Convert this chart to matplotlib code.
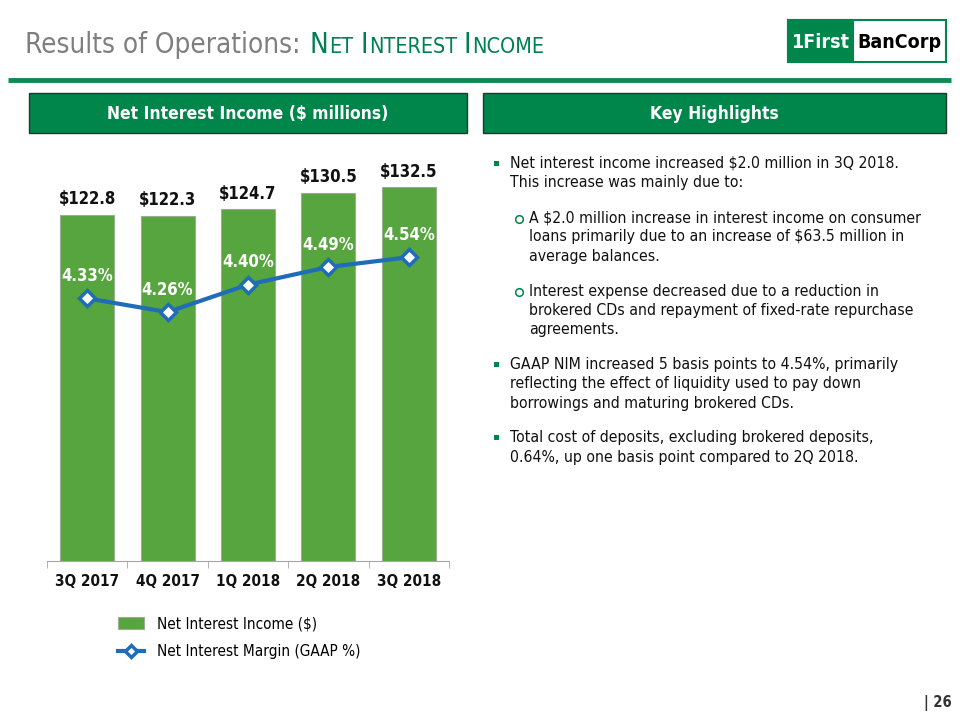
import numpy as np
import matplotlib
matplotlib.use('Agg')
import matplotlib.pyplot as plt
from matplotlib.patches import Rectangle

# data
quarters = ["3Q 2017", "4Q 2017", "1Q 2018", "2Q 2018", "3Q 2018"]
nii = [122.8, 122.3, 124.7, 130.5, 132.5]        # net interest income, $ millions
nim = [4.33, 4.26, 4.40, 4.49, 4.54]             # net interest margin, GAAP %

highlights = [
    ("bullet", ["Net interest income increased $2.0 million in 3Q 2018.",
                "This increase was mainly due to:"]),
    ("sub", ["A $2.0 million increase in interest income on consumer",
             "loans primarily due to an increase of $63.5 million in",
             "average balances."]),
    ("sub", ["Interest expense decreased due to a reduction in",
             "brokered CDs and repayment of fixed-rate repurchase",
             "agreements."]),
    ("bullet", ["GAAP NIM increased 5 basis points to 4.54%, primarily",
                "reflecting the effect of liquidity used to pay down",
                "borrowings and maturing brokered CDs."]),
    ("bullet", ["Total cost of deposits, excluding brokered deposits,",
                "0.64%, up one basis point compared to 2Q 2018."]),
]

GREEN = "#00854A"
BAR = "#57A53E"
BLUE = "#1F6CB8"
GRAY = "#7F7F7F"

plt.rcParams['font.family'] = ["DejaVu Sans"]
plt.rcParams['font.stretch'] = 'condensed'

fig = plt.figure(figsize=(9.6, 7.2), dpi=100)
fig.patch.set_facecolor("white")

# overlay in pixel coords for the slide furniture
bg = fig.add_axes([0, 0, 1, 1])
bg.set_xlim(0, 960)
bg.set_ylim(720, 0)
bg.axis('off')
renderer = fig.canvas.get_renderer()

# title, small caps done by hand
x = 25
t = bg.text(x, 53, "Results of Operations:", fontsize=20, color=GRAY, va='baseline')
x += t.get_window_extent(renderer).width + 9
for word in ["NET", "INTEREST", "INCOME"]:
    t = bg.text(x, 53, word[0], fontsize=20, color="#00804F", va='baseline')
    x += t.get_window_extent(renderer).width + 1
    t = bg.text(x, 53, word[1:], fontsize=15.5, color="#00804F", va='baseline')
    x += t.get_window_extent(renderer).width + 7

# logo
bg.add_patch(Rectangle((788, 20), 158, 42, facecolor="white", edgecolor=GREEN, lw=1.5))
bg.add_patch(Rectangle((788, 20), 65, 42, facecolor=GREEN, edgecolor=GREEN, lw=1.5))
bg.text(820, 42, "1First", color="white", fontsize=14, fontweight='bold',
        ha='center', va='center')
bg.text(899, 42, "BanCorp", color="black", fontsize=14, fontweight='bold',
        ha='center', va='center')

# green rule
bg.plot([8, 951], [80, 80], color="#0E8A52", lw=3.5, solid_capstyle='butt')

# header boxes
bg.add_patch(Rectangle((29, 93), 438, 40, facecolor=GREEN, edgecolor="#1D3B2B", lw=1))
bg.add_patch(Rectangle((483, 93), 463, 40, facecolor=GREEN, edgecolor="#1D3B2B", lw=1))
bg.text(248, 114, "Net Interest Income ($ millions)", color="white", fontsize=12.5,
        fontweight='bold', ha='center', va='center')
bg.text(714, 114, "Key Highlights", color="white", fontsize=12.5,
        fontweight='bold', ha='center', va='center')

# highlights text
y = 163.5
step = 19.3
for kind, lines in highlights:
    if kind == "bullet":
        bg.add_patch(Rectangle((494, y - 2.5), 5, 5, facecolor=GREEN, edgecolor='none'))
        tx = 510
    else:
        bg.plot([519], [y + 1], marker='o', ms=5.5, mfc='white', mec=GREEN, mew=1.1)
        tx = 529
    for ln in lines:
        bg.text(tx, y, ln, fontsize=11.3, color="#111111", va='center')
        y += step
    y += 15.5

# page number
bg.text(952, 703, "| 26", fontsize=10.5, fontweight='bold', color="#333333",
        ha='right', va='center')

# chart
ax = fig.add_axes([47 / 960, 159 / 720, 402 / 960, 411 / 720])
ax.patch.set_alpha(0)
xpos = np.arange(len(quarters))
bars = ax.bar(xpos, nii, width=0.67, color=BAR, edgecolor="#9AAE94", lw=0.8,
              label="Net Interest Income ($)")
ax.set_xlim(-0.5, len(quarters) - 0.5)
ax.set_ylim(0, 145.8)
for xi, v in zip(xpos, nii):
    ax.annotate(f"${v:.1f}", (xi, v), xytext=(0, 5), textcoords='offset points',
                ha='center', va='bottom', fontsize=12, fontweight='bold', color="#111111")
for s in ["top", "left", "right"]:
    ax.spines[s].set_visible(False)
ax.spines["bottom"].set_color("#A6A6A6")
ax.set_yticks([])
ax.set_xticks(xpos)
ax.set_xticklabels(quarters, fontsize=11, fontweight='bold', color="#111111")
ax.tick_params(axis='x', which='major', length=0, pad=9)
ax.set_xticks(np.arange(-0.5, len(quarters)), minor=True)
ax.tick_params(axis='x', which='minor', length=5, color="#A6A6A6")

ax2 = ax.twinx()
ax2.set_ylim(2.99, 5.087)
ax2.axis('off')
line, = ax2.plot(xpos, nim, color=BLUE, lw=3, marker='D', ms=8, mfc='white',
                 mec=BLUE, mew=2.5, label="Net Interest Margin (GAAP %)")
for xi, v in zip(xpos, nim):
    ax2.annotate(f"{v:.2f}%", (xi, v), xytext=(0, 9.5), textcoords='offset points',
                 ha='center', va='bottom', fontsize=12, fontweight='bold', color="white")

fig.legend(handles=[bars, line], loc='upper left', bbox_to_anchor=(106 / 960, 1 - 604 / 720),
           frameon=False, fontsize=11, handlelength=1.7, handleheight=0.8,
           labelspacing=0.85, handletextpad=0.85, borderpad=0.3, markerscale=0.8)

fig.savefig("out.png", dpi=100, facecolor="white")
